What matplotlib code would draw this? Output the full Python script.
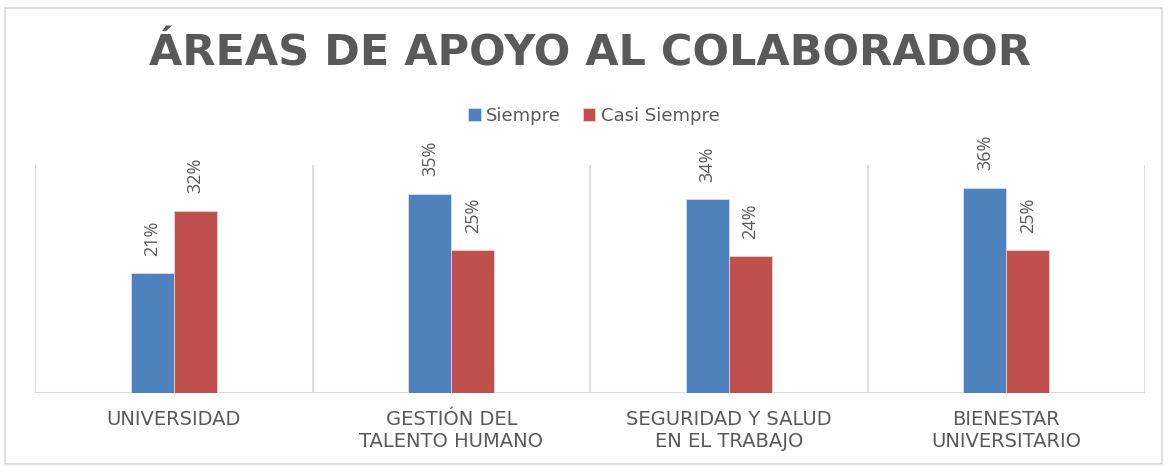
import matplotlib
matplotlib.use("Agg")
import matplotlib.pyplot as plt
from matplotlib.patches import Rectangle
import numpy as np

categories = ["UNIVERSIDAD", "GESTIÓN DEL\nTALENTO HUMANO", "SEGURIDAD Y SALUD\nEN EL TRABAJO", "BIENESTAR\nUNIVERSITARIO"]
series_names = ["Siempre", "Casi Siempre"]
siempre = [0.21, 0.35, 0.34, 0.36]
casi_siempre = [0.32, 0.25, 0.24, 0.25]
colors = ["#4F81BD", "#C0504D"]
text_color = "#595959"

fig = plt.figure(figsize=(11.69, 4.66), dpi=100)
ax = fig.add_axes([0.030, 0.1567, 0.9495, 0.4892])

x = np.arange(len(categories))
w = 0.155
b1 = ax.bar(x - w/2, siempre, w, color=colors[0], edgecolor="#dfe6f0", linewidth=0.5, label=series_names[0], zorder=3)
b2 = ax.bar(x + w/2, casi_siempre, w, color=colors[1], edgecolor="#f0dcdc", linewidth=0.5, label=series_names[1], zorder=3)

for bars, vals in ((b1, siempre), (b2, casi_siempre)):
    for rect, v in zip(bars, vals):
        ax.annotate(f"{round(v*100)}%", (rect.get_x() + rect.get_width()/2, v),
                    xytext=(0, 12.5), textcoords="offset points", rotation=90,
                    ha="center", va="bottom", fontsize=13, color=text_color,
                    family="Open Sans")

ax.set_xlim(-0.5, len(categories) - 0.5)
ax.set_ylim(0, 0.40)
for xv in np.arange(-0.5, len(categories), 1.0):
    ax.axvline(xv, color="#d9d9d9", lw=1.2, zorder=1)
ax.axhline(0, color="#d9d9d9", lw=1.5, zorder=2)
for s in ax.spines.values():
    s.set_visible(False)
ax.set_yticks([])
ax.set_xticks(x)
ax.set_xticklabels(categories, fontsize=14, color=text_color, family="DejaVu Sans",
                   linespacing=1.2)
ax.tick_params(axis="x", length=0, pad=12)

fig.text(0.505, 0.886, "ÁREAS DE APOYO AL COLABORADOR", ha="center", va="center",
         fontsize=31, fontweight="bold", color=text_color, family="DejaVu Sans")

leg = fig.legend(handles=[b1, b2], labels=series_names, loc="center", bbox_to_anchor=(0.508, 0.752),
                 ncol=2, frameon=False, fontsize=13, handlelength=0.7, handleheight=0.7,
                 handletextpad=0.3, columnspacing=1.2)
for t in leg.get_texts():
    t.set_color(text_color)

fig.patches.append(Rectangle((0.004, 0.005), 0.99, 0.978, transform=fig.transFigure,
                             fill=False, edgecolor="#d9d9d9", lw=1.2))

fig.savefig("out.png", dpi=100)
